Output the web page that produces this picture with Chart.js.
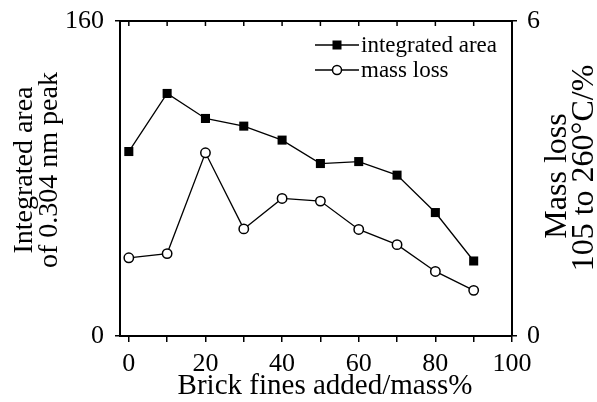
<!DOCTYPE html>
<html>
<head>
<meta charset="utf-8">
<script src="https://cdn.jsdelivr.net/npm/chart.js@4.4.0/dist/chart.umd.min.js"></script>
<style>
html,body{margin:0;padding:0;background:#fff;}
#wrap{width:597px;height:402px;position:relative;}
</style>
</head>
<body>
<div id="wrap"><canvas id="c" width="597" height="402"></canvas></div>
<script>
const brickFines = [0, 10, 20, 30, 40, 50, 60, 70, 80, 90];
const integratedArea = [93.7, 123.2, 110.5, 106.6, 99.5, 87.6, 88.6, 81.7, 62.7, 38.1];
const massLoss = [1.49, 1.57, 3.49, 2.04, 2.62, 2.57, 2.03, 1.74, 1.23, 0.87];
const xTicks = [0, 10, 20, 30, 40, 50, 60, 70, 80, 90, 100];
const xTickLabels = ['0', '', '20', '', '40', '', '60', '', '80', '', '100'];
const leftTicks = [0, 160];
const rightTicks = [0, 6];
const seriesNames = ['integrated area', 'mass loss'];
const xTitle = 'Brick fines added/mass%';
const leftTitle = ['Integrated area', 'of 0.304 nm peak'];
const rightTitle = ['Mass loss', '105 to 260°C/%'];

const FONT = "'Liberation Serif', 'Times New Roman', serif";

const decor = {
  id: 'decor',
  afterDraw(chart) {
    const ctx = chart.ctx;
    const ca = chart.chartArea;
    const xs = chart.scales.x;
    ctx.save();
    ctx.strokeStyle = '#000';
    // top border
    ctx.lineWidth = 2;
    ctx.beginPath();
    ctx.moveTo(ca.left - 1, ca.top);
    ctx.lineTo(ca.right + 1, ca.top);
    ctx.stroke();
    // inner ticks at top
    ctx.lineWidth = 1.5;
    xTicks.forEach(v => {
      const px = xs.getPixelForValue(v);
      ctx.beginPath();
      ctx.moveTo(px, ca.top);
      ctx.lineTo(px, ca.top + 5);
      ctx.stroke();
    });
    // legend
    const ds = chart.data.datasets;
    ctx.font = '23px ' + FONT;
    ctx.fillStyle = '#000';
    ctx.textBaseline = 'middle';
    ctx.textAlign = 'left';
    const lx0 = ca.right - 197, lx1 = ca.right - 153;
    [ca.top + 24, ca.top + 49].forEach((ly, i) => {
      ctx.lineWidth = 1.5;
      ctx.beginPath();
      ctx.moveTo(lx0, ly);
      ctx.lineTo(lx1, ly);
      ctx.stroke();
      const mx = (lx0 + lx1) / 2;
      if (i === 0) {
        ctx.fillRect(mx - 4.5, ly - 4.5, 9, 9);
      } else {
        ctx.beginPath();
        ctx.arc(mx, ly, 4.5, 0, Math.PI * 2);
        ctx.fillStyle = '#fff';
        ctx.fill();
        ctx.stroke();
        ctx.fillStyle = '#000';
      }
      ctx.fillText(ds[i].label, lx1 + 2, ly + 1);
    });
    // axis titles
    ctx.font = '29px ' + FONT;
    ctx.textAlign = 'center';
    ctx.textBaseline = 'alphabetic';
    ctx.fillText(xTitle, (ca.left + ca.right) / 2 + 9, ca.bottom + 58);
    ctx.font = '28px ' + FONT;
    ctx.save();
    ctx.translate(ca.left - 88, 170);
    ctx.rotate(-Math.PI / 2);
    ctx.fillText(leftTitle[0], 0, 0);
    ctx.fillText(leftTitle[1], 0, 25);
    ctx.restore();
    ctx.font = '32px ' + FONT;
    ctx.save();
    ctx.translate(ca.right + 54, 0);
    ctx.rotate(-Math.PI / 2);
    ctx.fillText(rightTitle[0], -176, 0);
    ctx.fillText(rightTitle[1], -168, 27);
    ctx.restore();
    ctx.restore();
  }
};

new Chart(document.getElementById('c'), {
  type: 'line',
  data: {
    datasets: [
      {
        label: seriesNames[0],
        data: brickFines.map((x, i) => ({x: x, y: integratedArea[i]})),
        yAxisID: 'y',
        borderColor: '#000',
        borderWidth: 1.3,
        backgroundColor: '#000',
        pointStyle: 'rect',
        pointRadius: 6.4,
        pointBackgroundColor: '#000',
        pointBorderColor: '#000',
        pointBorderWidth: 0,
        tension: 0,
        fill: false
      },
      {
        label: seriesNames[1],
        data: brickFines.map((x, i) => ({x: x, y: massLoss[i]})),
        yAxisID: 'y2',
        borderColor: '#000',
        borderWidth: 1.3,
        backgroundColor: '#fff',
        pointStyle: 'circle',
        pointRadius: 4.7,
        pointBackgroundColor: '#fff',
        pointBorderColor: '#000',
        pointBorderWidth: 1.5,
        tension: 0,
        fill: false
      }
    ]
  },
  options: {
    responsive: false,
    animation: false,
    devicePixelRatio: 1,
    layout: {padding: {top: 21, left: 0, right: 0, bottom: 0}},
    plugins: {legend: {display: false}, tooltip: {enabled: false}, title: {display: false}},
    scales: {
      x: {
        type: 'linear',
        min: -2.3,
        max: 100,
        afterBuildTicks: s => { s.ticks = xTicks.map(v => ({value: v})); },
        afterFit: s => { s.height = 66; },
        ticks: {
          autoSkip: false,
          maxRotation: 0,
          color: '#000',
          font: {family: FONT, size: 26},
          padding: 7,
          callback: (v) => { const i = xTicks.indexOf(v); return i >= 0 ? xTickLabels[i] : ''; }
        },
        grid: {drawOnChartArea: false, drawTicks: true, tickLength: 6, color: '#000', lineWidth: 1.5},
        border: {display: true, color: '#000', width: 2}
      },
      y: {
        position: 'left',
        min: 0,
        max: 160,
        afterBuildTicks: s => { s.ticks = leftTicks.map(v => ({value: v})); },
        afterFit: s => { s.width = 120; },
        ticks: {color: '#000', font: {family: FONT, size: 26, lineHeight: 0.7}, padding: 11},
        grid: {drawOnChartArea: false, drawTicks: true, tickLength: 5, color: '#000', lineWidth: 1.5},
        border: {display: true, color: '#000', width: 2}
      },
      y2: {
        position: 'right',
        min: 0,
        max: 6,
        afterBuildTicks: s => { s.ticks = rightTicks.map(v => ({value: v})); },
        afterFit: s => { s.width = 85; },
        ticks: {color: '#000', font: {family: FONT, size: 26, lineHeight: 0.7}, padding: 10},
        grid: {drawOnChartArea: false, drawTicks: true, tickLength: 5, color: '#000', lineWidth: 1.5},
        border: {display: true, color: '#000', width: 2}
      }
    }
  },
  plugins: [decor]
});
</script>
</body>
</html>
